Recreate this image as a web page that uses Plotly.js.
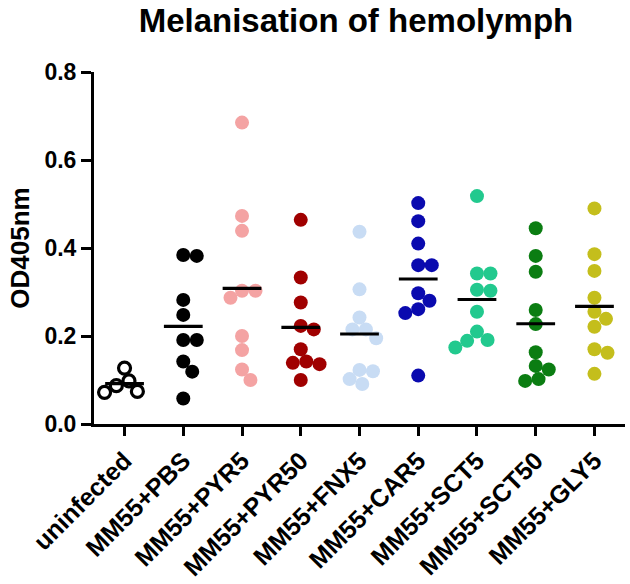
<!DOCTYPE html>
<html><head><meta charset="utf-8">
<script src="https://cdn.plot.ly/plotly-3.0.1.min.js"></script>
<style>html,body{margin:0;padding:0;background:#fff}#chart{width:630px;height:584px}</style>
</head><body><div id="chart"></div>
<script>
const categories = ["uninfected","MM55+PBS","MM55+PYR5","MM55+PYR50","MM55+FNX5","MM55+CAR5","MM55+SCT5","MM55+SCT50","MM55+GLY5"];
const uninfected = [0.127, 0.098, 0.072, 0.074, 0.087];
const pbs   = [0.382, 0.384, 0.282, 0.248, 0.191, 0.191, 0.142, 0.119, 0.058];
const pyr5  = [0.685, 0.473, 0.439, 0.303, 0.303, 0.287, 0.200, 0.168, 0.124, 0.100];
const pyr50 = [0.464, 0.333, 0.276, 0.223, 0.215, 0.170, 0.142, 0.136, 0.139, 0.100];
const fnx5  = [0.437, 0.306, 0.242, 0.215, 0.215, 0.195, 0.123, 0.120, 0.102, 0.091];
const car5  = [0.502, 0.461, 0.410, 0.361, 0.361, 0.297, 0.280, 0.261, 0.252, 0.110];
const sct5  = [0.518, 0.342, 0.342, 0.305, 0.303, 0.255, 0.210, 0.191, 0.189, 0.174];
const sct50 = [0.445, 0.382, 0.346, 0.259, 0.227, 0.163, 0.132, 0.124, 0.098, 0.102];
const gly5  = [0.490, 0.386, 0.348, 0.287, 0.255, 0.239, 0.221, 0.170, 0.162, 0.114];
const seriesValues = [uninfected, pbs, pyr5, pyr50, fnx5, car5, sct5, sct50, gly5];
const colors = ["#000000","#000000","#F4A3A3","#A00000","#C8DCF4","#0A0AAF","#22C98E","#0B7D12","#C4BE1C"];
const yTicks = [0, 0.2, 0.4, 0.6, 0.8];

// plot geometry (for swarm spacing)
const W = 630, H = 584, mL = 94, mR = 5, mT = 72, mB = 160;
const xRange = [-0.52, 8.52], yRange = [0, 0.8];
const pxPerCat = (W - mL - mR) / (xRange[1] - xRange[0]);
const pxPerUnit = (H - mT - mB) / (yRange[1] - yRange[0]);
const D = 13.5; // marker diameter in px for swarm

function swarm(vals) {
  const placed = [];
  const out = new Array(vals.length);
  const order = vals.map((v, i) => i).sort((a, b) => vals[b] - vals[a]);
  for (const idx of order) {
    const y = vals[idx] * pxPerUnit;
    const cands = [0];
    const near = placed.filter(p => Math.abs(p.y - y) < D);
    near.forEach(p => { const h = Math.sqrt(D * D - (p.y - y) ** 2); cands.push(p.x + h + 0.01, p.x - h - 0.01); });
    cands.sort((a, b) => Math.abs(a) - Math.abs(b) || b - a);
    let best = 0;
    for (const c of cands) {
      if (near.every(p => (p.x - c) ** 2 + (p.y - y) ** 2 >= D * D - 0.1)) { best = c; break; }
    }
    placed.push({x: best, y: y});
    out[idx] = best / pxPerCat;
  }
  return out;
}

const traces = [];
seriesValues.forEach((vals, i) => {
  const offs = swarm(vals);
  const open = i === 0;
  traces.push({
    type: "scatter", mode: "markers", cliponaxis: false,
    x: vals.map((v, k) => i + offs[k]), y: vals,
    marker: open ? {symbol: "circle-open", size: 12, color: colors[i], line: {width: 3.2, color: colors[i]}}
                 : {symbol: "circle", size: 14, color: colors[i], line: {width: 0}},
    showlegend: false, hoverinfo: "y"
  });
});
seriesValues.forEach((vals, i) => {
  const mean = vals.reduce((a, b) => a + b, 0) / vals.length;
  traces.push({
    type: "scatter", mode: "lines", cliponaxis: false,
    x: [i - 0.33, i + 0.33], y: [mean, mean],
    line: {color: "#000", width: 3.2}, showlegend: false, hoverinfo: "y"
  });
});

const font = "Arial, 'Liberation Sans', sans-serif";
const layout = {
  width: W, height: H,
  margin: {l: mL, r: mR, t: mT, b: mB},
  paper_bgcolor: "#fff", plot_bgcolor: "#fff",
  title: {text: "<b>Melanisation of hemolymph</b>", x: 0.565, xanchor: "center", y: 0.965, yanchor: "middle",
          font: {family: font, size: 33, color: "#000"}},
  xaxis: {range: xRange, tickmode: "array", tickvals: categories.map((c, i) => i),
          ticktext: categories.map(c => "<b>" + c + "</b>"), tickangle: -45,
          showgrid: false, zeroline: false, showline: true, linecolor: "#000", linewidth: 3,
          ticks: "outside", ticklen: 9, tickwidth: 3, tickcolor: "#000",
          tickfont: {family: font, size: 25, color: "#000"}},
  yaxis: {range: yRange, tickmode: "array", tickvals: yTicks, ticktext: yTicks.map(t => "<b>" + t.toFixed(1) + "</b>"),
          showgrid: false, zeroline: false, showline: true, linecolor: "#000", linewidth: 3,
          ticks: "outside", ticklen: 10, tickwidth: 3, tickcolor: "#000",
          tickfont: {family: font, size: 23, color: "#000"},
          title: {text: "<b>OD405nm</b>", font: {family: font, size: 26, color: "#000"}, standoff: 8}}
};
Plotly.newPlot("chart", traces, layout, {displayModeBar: false, staticPlot: true});
</script></body></html>
